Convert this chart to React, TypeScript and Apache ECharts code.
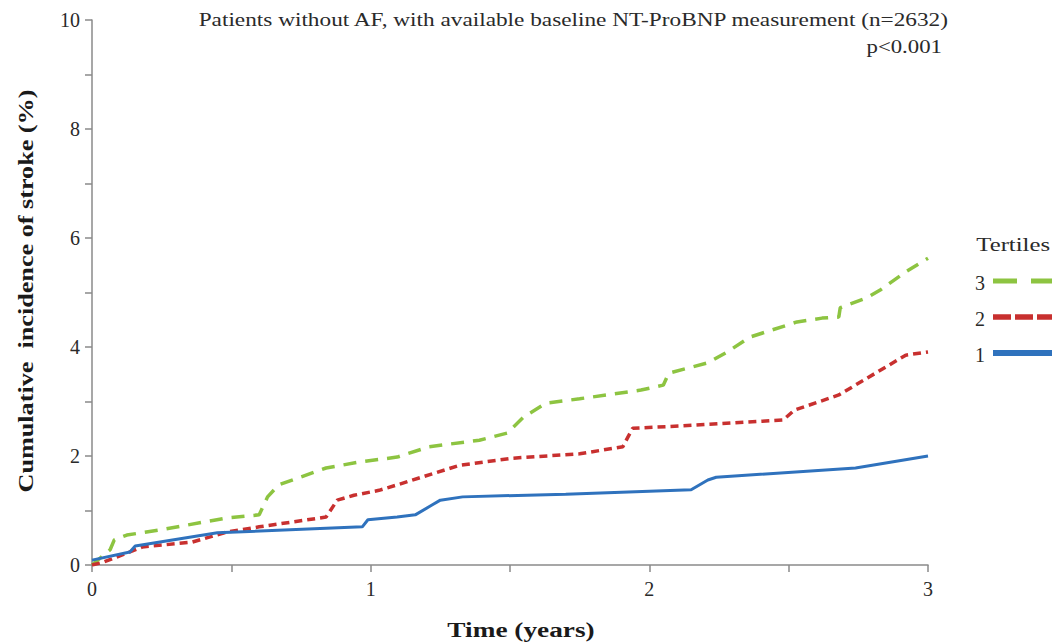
import React, { useEffect, useRef } from "react";
import * as echarts from "echarts";

const xTicks = [0, 1, 2, 3];
const yTicks = [0, 2, 4, 6, 8, 10];

const t1Time = [0, 0.136, 0.155, 0.45, 0.97, 0.99, 1.095, 1.16, 1.22, 1.25, 1.33, 1.7, 2.15, 2.21, 2.24, 2.74, 3.0];
const t1Value = [0.09, 0.24, 0.35, 0.59, 0.70, 0.83, 0.88, 0.92, 1.1, 1.19, 1.25, 1.3, 1.38, 1.56, 1.61, 1.78, 2.0];

const t2Time = [0, 0.04, 0.136, 0.18, 0.36, 0.48, 0.6, 0.84, 0.88, 0.94, 1.03, 1.095, 1.32, 1.51, 1.75, 1.905, 1.94, 2.11, 2.48, 2.52, 2.68, 2.92, 3.0];
const t2Value = [0.0, 0.05, 0.24, 0.33, 0.42, 0.6, 0.7, 0.88, 1.19, 1.28, 1.37, 1.47, 1.83, 1.96, 2.04, 2.17, 2.51, 2.55, 2.66, 2.84, 3.12, 3.85, 3.91];

const t3Time = [0, 0.065, 0.08, 0.125, 0.24, 0.48, 0.6, 0.63, 0.67, 0.84, 0.96, 1.095, 1.21, 1.39, 1.49, 1.55, 1.63, 1.75, 1.97, 2.05, 2.07, 2.21, 2.28, 2.36, 2.53, 2.62, 2.68, 2.685, 2.78, 2.83, 2.92, 3.0];
const t3Value = [0.0, 0.28, 0.46, 0.55, 0.64, 0.86, 0.92, 1.25, 1.47, 1.78, 1.89, 1.98, 2.17, 2.29, 2.42, 2.72, 2.97, 3.05, 3.21, 3.3, 3.52, 3.71, 3.91, 4.18, 4.46, 4.53, 4.55, 4.72, 4.9, 5.05, 5.38, 5.63];

const seriesNames = ["3", "2", "1"];
const colors: Record<string, string> = { "3": "#8dc441", "2": "#c8302f", "1": "#2f72bd" };

const zip = (a: number[], b: number[]) => a.map((x, i) => [x, b[i]]);

const FONT = "Liberation Serif";
const TXT = "#2a2a2a";

const legendY = [281, 317, 353];
const legendDash: (number[] | null)[] = [[24, 14], [18, 4], null];
const legendWidth = [5, 5.5, 6];

export default function App() {
  const ref = useRef<HTMLDivElement>(null);
  useEffect(() => {
    const chart = echarts.init(ref.current!, undefined, { renderer: "svg" });
    const legendGraphics: any[] = [];
    seriesNames.forEach((name, i) => {
      legendGraphics.push({
        type: "text",
        x: 985,
        y: legendY[i] + 2,
        style: { text: name, font: `20px ${FONT}`, fill: TXT, align: "right", verticalAlign: "middle" },
      });
      legendGraphics.push({
        type: "line",
        shape: { x1: 993, y1: legendY[i], x2: 1052, y2: legendY[i] },
        style: {
          stroke: colors[name],
          lineWidth: legendWidth[i],
          lineDash: legendDash[i] || undefined,
        },
      });
    });
    chart.setOption({
      animation: false,
      textStyle: { fontFamily: FONT },
      grid: { left: 92, right: 128, top: 20, bottom: 78 },
      xAxis: {
        type: "value",
        min: 0,
        max: 3,
        interval: 0.5,
        axisLine: { lineStyle: { color: "#8a8a8a", width: 1.5 } },
        axisTick: { length: 7, lineStyle: { color: "#8a8a8a", width: 1.5 } },
        splitLine: { show: false },
        axisLabel: {
          fontFamily: FONT,
          fontSize: 20,
          color: TXT,
          margin: 14,
          formatter: (v: number) => (xTicks.includes(v) ? String(v) : ""),
        },
      },
      yAxis: {
        type: "value",
        min: 0,
        max: 10,
        interval: 1,
        axisLine: { show: true, lineStyle: { color: "#8a8a8a", width: 1.5 } },
        axisTick: { show: true, length: 7, lineStyle: { color: "#8a8a8a", width: 1.5 } },
        splitLine: { show: false },
        axisLabel: {
          fontFamily: FONT,
          fontSize: 20,
          color: TXT,
          margin: 12,
          formatter: (v: number) => (yTicks.includes(v) ? String(v) : ""),
        },
      },
      graphic: [
        {
          type: "text",
          x: 1050,
          y: 245,
          scaleX: 1.3,
          style: { text: "Tertiles", font: `19px ${FONT}`, fill: TXT, align: "right", verticalAlign: "middle" },
        },
        {
          type: "text",
          x: 948,
          y: 20,
          scaleX: 1.225,
          style: {
            text: "Patients without AF, with available baseline NT-ProBNP measurement (n=2632)",
            font: `19px ${FONT}`,
            fill: TXT,
            align: "right",
            verticalAlign: "middle",
          },
        },
        {
          type: "text",
          x: 942,
          y: 47,
          scaleX: 1.2,
          style: { text: "p<0.001", font: `19px ${FONT}`, fill: TXT, align: "right", verticalAlign: "middle" },
        },
        {
          type: "text",
          x: 521,
          y: 630,
          scaleX: 1.3,
          style: { text: "Time (years)", font: `bold 21px ${FONT}`, fill: "#1a1a1a", align: "center", verticalAlign: "middle" },
        },
        {
          type: "text",
          x: 25,
          y: 291,
          rotation: Math.PI / 2,
          scaleX: 1.19,
          style: {
            text: "Cumulative  incidence of stroke (%)",
            font: `bold 22px ${FONT}`,
            fill: "#1a1a1a",
            align: "center",
            verticalAlign: "middle",
          },
        },
        ...legendGraphics,
      ],
      series: [
        {
          name: "3",
          type: "line",
          data: zip(t3Time, t3Value),
          symbol: "none",
          lineStyle: { color: colors["3"], width: 3.5, type: [13, 9] },
          itemStyle: { color: colors["3"] },
        },
        {
          name: "2",
          type: "line",
          data: zip(t2Time, t2Value),
          symbol: "none",
          lineStyle: { color: colors["2"], width: 3.5, type: [8, 5] },
          itemStyle: { color: colors["2"] },
        },
        {
          name: "1",
          type: "line",
          data: zip(t1Time, t1Value),
          symbol: "none",
          lineStyle: { color: colors["1"], width: 3 },
          itemStyle: { color: colors["1"] },
        },
      ],
    });
    return () => chart.dispose();
  }, []);
  return <div ref={ref} style={{ width: 1056, height: 643, position: "absolute", left: 0, top: 0 }} />;
}
